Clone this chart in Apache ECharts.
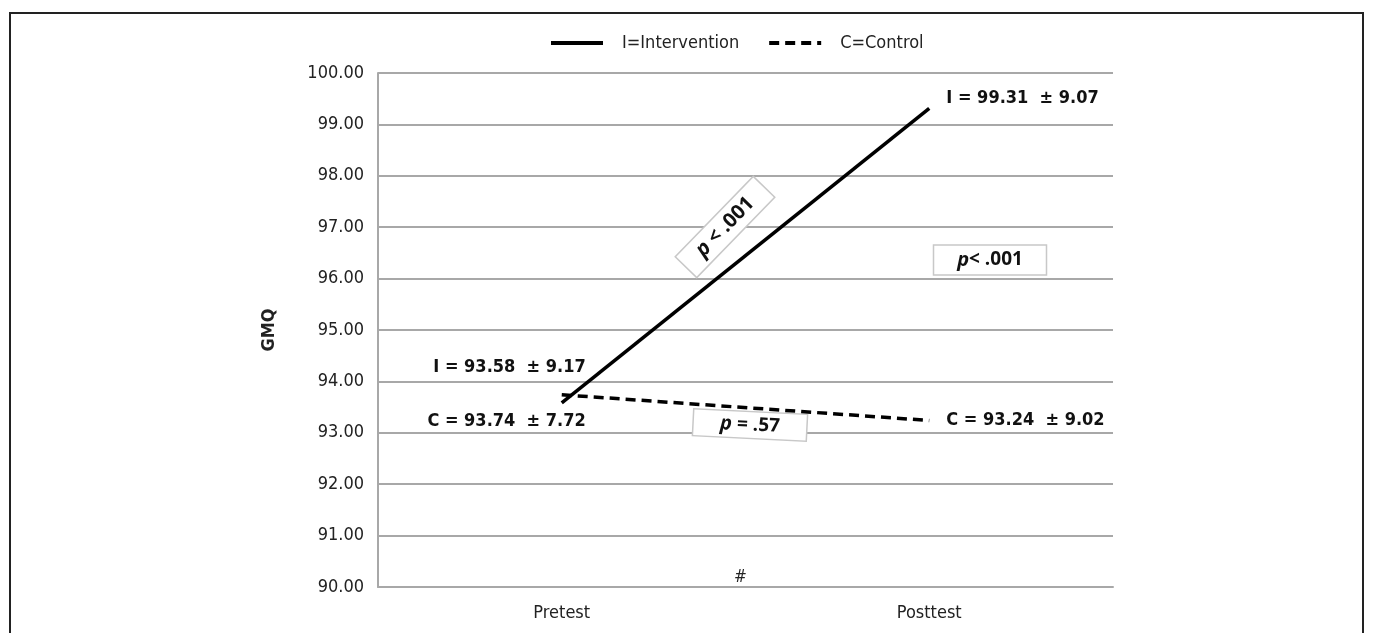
<!DOCTYPE html>
<html>
<head>
<meta charset="utf-8">
<script src="https://cdn.jsdelivr.net/npm/echarts@6/dist/echarts.min.js"></script>
<style>
  html, body { margin: 0; padding: 0; background: #fff; }
  #main { width: 1373px; height: 633px; }
</style>
</head>
<body>
<div id="main"></div>
<script>
// data
var xTicks = ['', 'Pretest', '#', 'Posttest', ''];
var phases = ['Pretest', 'Posttest'];
var iMean = [93.58, 99.31];
var iSD = [9.17, 9.07];
var cMean = [93.74, 93.24];
var cSD = [7.72, 9.02];
var pTexts = ['< .001', '< .001', '= .57'];   // I pre->post, I vs C post, C pre->post
var yMin = 90, yMax = 100, yStep = 1;

var FONT = '"DejaVu Sans Condensed", "Roboto", sans-serif';

function toSeries(means) {
    return xTicks.map(function (t) {
        var k = phases.indexOf(t);
        return k < 0 ? '-' : means[k];
    });
}

var myChart = echarts.init(document.getElementById('main'));

var option = {
    backgroundColor: '#fff',
    animation: false,
    textStyle: { fontFamily: FONT },
    legend: {
        top: 29,
        left: 544,
        itemWidth: 52,
        itemHeight: 4,
        itemGap: 28,
        itemStyle: { opacity: 0 },
        lineStyle: { width: 4 },
        textStyle: { fontFamily: FONT, fontSize: 18, color: '#222', padding: [0, 0, 0, 14] },
        data: ['I=Intervention', 'C=Control']
    },
    grid: { left: 378, right: 260, top: 73, bottom: 46 },
    xAxis: {
        type: 'category',
        data: xTicks,
        boundaryGap: false,
        axisLine: { lineStyle: { color: '#a8a8a8', width: 2 } },
        axisTick: { show: false },
        axisLabel: {
            interval: 0,
            margin: 17,
            fontFamily: FONT,
            fontSize: 18,
            color: '#222',
            formatter: function (v) { return v === '#' ? '' : v; }
        },
        splitLine: { show: false }
    },
    yAxis: {
        type: 'value',
        min: yMin,
        max: yMax,
        interval: yStep,
        name: 'GMQ',
        nameLocation: 'middle',
        nameGap: 100,
        nameRotate: 90,
        nameTextStyle: { fontFamily: FONT, fontSize: 18, fontWeight: 'bold', color: '#222' },
        axisLine: { show: true, lineStyle: { color: '#a8a8a8', width: 2 } },
        axisTick: { show: false },
        axisLabel: {
            margin: 14,
            fontFamily: FONT,
            fontSize: 18,
            color: '#222',
            formatter: function (v) { return v.toFixed(2); }
        },
        splitLine: { lineStyle: { color: '#a8a8a8', width: 2 } }
    },
    series: [
        {
            name: 'I=Intervention',
            type: 'line',
            data: toSeries(iMean),
            connectNulls: true,
            symbol: 'none',
            lineStyle: { color: '#000', width: 3.5, type: 'solid' },
            itemStyle: { color: '#000' },
            z: 3
        },
        {
            name: 'C=Control',
            type: 'line',
            data: toSeries(cMean),
            connectNulls: true,
            symbol: 'none',
            lineStyle: { color: '#000', width: 3.5, type: [10, 6] },
            itemStyle: { color: '#000' },
            z: 2
        }
    ]
};
myChart.setOption(option);

// annotations placed from the data through the chart's own scales
function px(cat, val) {
    return myChart.convertToPixel({ gridIndex: 0 }, [cat, val]);
}
function statText(letter, m, sd) {
    return letter + ' = ' + m.toFixed(2) + '  \u00b1 ' + sd.toFixed(2);
}
var boldText = { fontFamily: FONT, fontSize: 18, fontWeight: 'bold', fill: '#111' };

function pBox(cx, cy, w, h, rot, p, fs) {
    return {
        type: 'group',
        x: cx, y: cy,
        rotation: rot,
        children: [
            {
                type: 'rect',
                shape: { x: -w / 2, y: -h / 2, width: w, height: h },
                style: { fill: '#fff', stroke: '#c8c8c8', lineWidth: 1.5 }
            },
            {
                type: 'text',
                style: {
                    text: '{i|p}{b|' + p + '}',
                    x: 0, y: 0,
                    align: 'center', verticalAlign: 'middle',
                    rich: {
                        i: { fontFamily: 'Open Sans', fontStyle: 'italic', fontWeight: 'bold', fontSize: fs + 1, fill: '#111' },
                        b: { fontFamily: 'Open Sans', fontWeight: 'bold', fontSize: fs, fill: '#111' }
                    }
                }
            }
        ]
    };
}

var ip0 = px('Pretest', iMean[0]), ip1 = px('Posttest', iMean[1]);
var cp0 = px('Pretest', cMean[0]), cp1 = px('Posttest', cMean[1]);
var hashPt = px('#', yMin);

myChart.setOption({
    graphic: [
        {
            type: 'rect',
            shape: { x: 10, y: 13, width: 1353, height: 660 },
            style: { fill: null, stroke: '#222', lineWidth: 2 },
            silent: true
        },
        { type: 'text', x: ip0[0] + 24, y: ip0[1] - 36, style: Object.assign({ text: statText('I', iMean[0], iSD[0]), align: 'right', verticalAlign: 'middle' }, boldText) },
        { type: 'text', x: cp0[0] + 24, y: cp0[1] + 27, style: Object.assign({ text: statText('C', cMean[0], cSD[0]), align: 'right', verticalAlign: 'middle' }, boldText) },
        { type: 'text', x: ip1[0] + 17, y: ip1[1] - 10, style: Object.assign({ text: statText('I', iMean[1], iSD[1]), align: 'left', verticalAlign: 'middle' }, boldText) },
        { type: 'text', x: cp1[0] + 17, y: cp1[1], style: Object.assign({ text: statText('C', cMean[1], cSD[1]), align: 'left', verticalAlign: 'middle' }, boldText) },
        { type: 'text', x: hashPt[0] - 5, y: hashPt[1] - 9, style: { text: '#', fontFamily: FONT, fontStyle: 'italic', fontSize: 17, fill: '#222', align: 'center', verticalAlign: 'middle' } },
        pBox(725, 227, 112, 30, 0.8, ' < ' + pTexts[0].replace('< ', ''), 20),
        pBox(990, 260, 113, 30, 0, '< ' + pTexts[1].replace('< ', ''), 19),
        pBox(750, 425, 114, 27, -0.05, ' ' + pTexts[2], 19)
    ]
});
</script>
</body>
</html>
